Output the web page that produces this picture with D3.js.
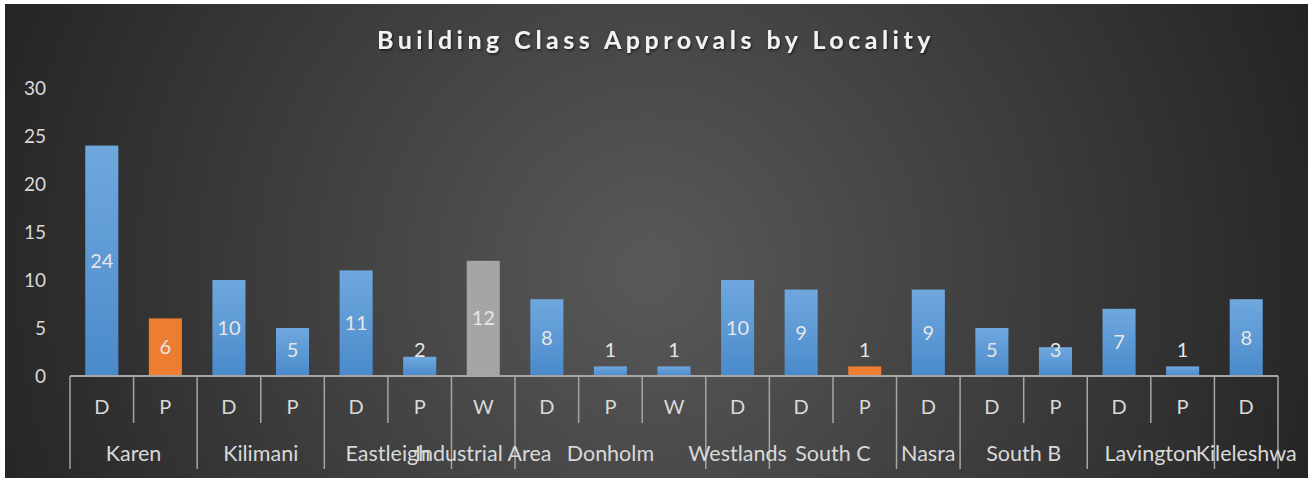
<!DOCTYPE html>
<html>
<head>
<meta charset="utf-8">
<title>Building Class Approvals by Locality</title>
<script src="https://cdn.jsdelivr.net/npm/d3@7"></script>
<style>
body { margin: 0; background: #fff; }
text { font-family: Lato, "Noto Sans", sans-serif; }
</style>
</head>
<body>
<div id="chart"></div>
<script>
// data
const localities = ["Karen", "Kilimani", "Eastleigh", "Industrial Area", "Donholm",
                    "Westlands", "South C", "Nasra", "South B", "Lavington", "Kileleshwa"];
const classes = [["D","P"], ["D","P"], ["D","P"], ["W"], ["D","P","W"],
                 ["D"], ["D","P"], ["D"], ["D","P"], ["D","P"], ["D"]];
const approvals = [[24,6], [10,5], [11,2], [12], [8,1,1],
                   [10], [9,1], [9], [5,3], [7,1], [8]];
// which series each bar belongs to (0 blue, 1 orange, 2 grey)
const seriesOf = [[0,1], [0,0], [0,0], [2], [0,0,0],
                  [0], [0,1], [0], [0,0], [0,0], [0]];
const yTicks = [0, 5, 10, 15, 20, 25, 30];

const W = 1308, H = 481;
const margin = {top: 88, right: 30, bottom: 105, left: 70};
const axisY = H - margin.bottom;

// flatten into one row per bar
let bars = [];
localities.forEach(function(loc, g) {
    classes[g].forEach(function(c, j) {
        bars.push({group: g, first: j == 0, cls: c,
                   value: approvals[g][j], series: seriesOf[g][j]});
    });
});
bars.forEach(function(d, i) { d.i = i; });

let svg = d3.select("#chart").append("svg")
    .attr("width", W).attr("height", H);

let defs = svg.append("defs");
let bg = defs.append("radialGradient").attr("id", "bg")
    .attr("gradientUnits", "userSpaceOnUse")
    .attr("cx", 650).attr("cy", 270).attr("r", 720);
bg.append("stop").attr("offset", "0%").attr("stop-color", "#595959");
bg.append("stop").attr("offset", "100%").attr("stop-color", "#232323");

let blue = defs.append("linearGradient").attr("id", "blueGrad")
    .attr("x1", 0).attr("y1", 0).attr("x2", 0).attr("y2", 1);
blue.append("stop").attr("offset", "0%").attr("stop-color", "#6fa8de");
blue.append("stop").attr("offset", "100%").attr("stop-color", "#4a8acb");

let shadow = defs.append("filter").attr("id", "tshadow");
shadow.append("feDropShadow").attr("dx", 1).attr("dy", 1.5)
    .attr("stdDeviation", 1).attr("flood-color", "#000").attr("flood-opacity", 0.6);

const fills = ["url(#blueGrad)", "#ed7d31", "#a5a5a5"];

svg.append("rect")
    .attr("x", 5).attr("y", 4)
    .attr("width", W - 5).attr("height", H - 7)
    .attr("fill", "url(#bg)");

svg.append("text")
    .attr("x", 656).attr("y", 49)
    .attr("text-anchor", "middle")
    .attr("fill", "#f2f2f2")
    .attr("font-size", "25px")
    .attr("font-weight", "bold")
    .attr("letter-spacing", "4.5px")
    .attr("filter", "url(#tshadow)")
    .text("Building Class Approvals by Locality");

let x = d3.scaleBand()
    .domain(d3.range(bars.length))
    .range([margin.left, W - margin.right])
    .paddingInner(0.48)
    .paddingOuter(0.24);
let step = x.step();

let y = d3.scaleLinear().domain([0, 30]).range([axisY, margin.top]);

// y axis labels only
let yAxis = svg.append("g")
    .attr("transform", "translate(" + (margin.left - 24) + ",0)")
    .call(d3.axisLeft(y).tickValues(yTicks).tickSize(0).tickPadding(0));
yAxis.select(".domain").remove();
yAxis.selectAll("text")
    .attr("fill", "#d9d9d9")
    .attr("font-size", "19px")
    .style("font-family", "Lato, 'Noto Sans', sans-serif");

// bars
svg.selectAll(".bar")
    .data(bars)
    .enter()
    .append("rect")
    .attr("class", "bar")
    .attr("x", function(d) { return x(d.i); })
    .attr("y", function(d) { return y(d.value); })
    .attr("width", x.bandwidth())
    .attr("height", function(d) { return axisY - y(d.value); })
    .attr("fill", function(d) { return fills[d.series]; });

// value labels
svg.selectAll(".vlabel")
    .data(bars)
    .enter()
    .append("text")
    .attr("class", "vlabel")
    .attr("x", function(d) { return x(d.i) + x.bandwidth() / 2; })
    .attr("y", function(d) { return Math.min((y(d.value) + axisY) / 2, axisY - 26); })
    .attr("dy", "0.35em")
    .attr("text-anchor", "middle")
    .attr("fill", "#e6e6e6")
    .attr("font-size", "20px")
    .text(function(d) { return d.value; });

// x axis line
svg.append("line")
    .attr("x1", margin.left).attr("x2", W - margin.right)
    .attr("y1", axisY).attr("y2", axisY)
    .attr("stroke", "#a6a6a6").attr("stroke-width", 2);

// separators: short between classes, long between localities
let seps = [];
bars.forEach(function(d) {
    seps.push({x: margin.left + d.i * step, long: d.first});
});
seps.push({x: margin.left + bars.length * step, long: true});
svg.selectAll(".sep")
    .data(seps)
    .enter()
    .append("line")
    .attr("x1", function(d) { return d.x; })
    .attr("x2", function(d) { return d.x; })
    .attr("y1", axisY)
    .attr("y2", function(d) { return d.long ? 469 : 423; })
    .attr("stroke", "#a6a6a6").attr("stroke-width", 1.5);

// class labels
svg.selectAll(".clabel")
    .data(bars)
    .enter()
    .append("text")
    .attr("class", "clabel")
    .attr("x", function(d) { return x(d.i) + x.bandwidth() / 2; })
    .attr("y", 414)
    .attr("text-anchor", "middle")
    .attr("fill", "#d9d9d9")
    .attr("font-size", "20px")
    .text(function(d) { return d.cls; });

// locality labels
let groupPos = localities.map(function(loc, g) {
    let inGroup = bars.filter(function(d) { return d.group == g; });
    let x0 = margin.left + inGroup[0].i * step;
    let x1 = margin.left + (inGroup[inGroup.length - 1].i + 1) * step;
    return {name: loc, cx: (x0 + x1) / 2};
});
svg.selectAll(".glabel")
    .data(groupPos)
    .enter()
    .append("text")
    .attr("class", "glabel")
    .attr("x", function(d) { return d.cx; })
    .attr("y", 461)
    .attr("text-anchor", "middle")
    .attr("fill", "#d9d9d9")
    .attr("font-size", "21.5px")
    .text(function(d) { return d.name; });
</script>
</body>
</html>
